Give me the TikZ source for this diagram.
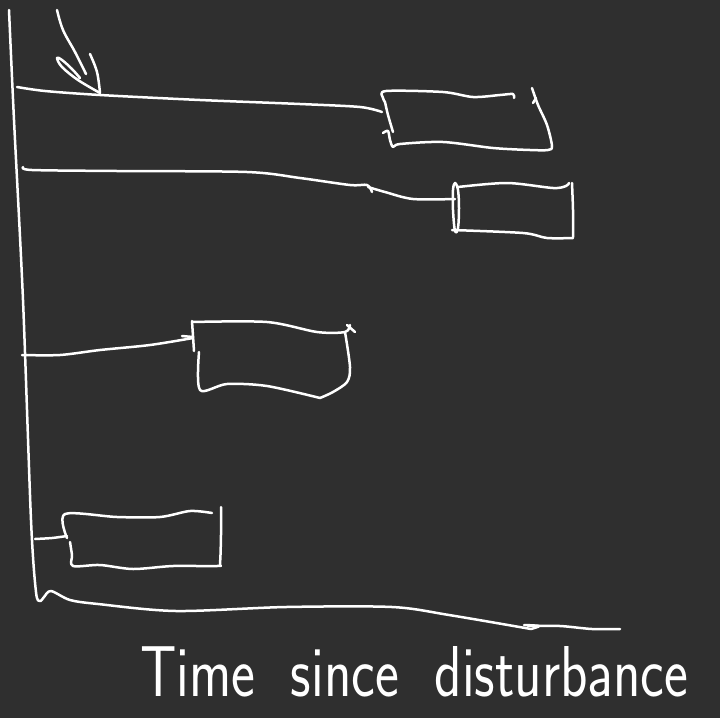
\documentclass[tikz,border=0pt]{standalone}
\definecolor{bgc}{RGB}{47,47,47}
\begin{document}
\begin{tikzpicture}[x=1pt,y=-1pt,
  ink/.style={draw=white, line width=2.5pt, line cap=round, line join=round},
  label/.style={text=white, inner sep=0pt}]
\fill[bgc] (0,0) rectangle (720,718);
\useasboundingbox (0,0) rectangle (720,718);

% named anchor coordinates
\coordinate (axtop) at (8,10);
\coordinate (b1) at (382,112);
\coordinate (b2) at (455,200);
\coordinate (b3) at (193,338);
\coordinate (b4) at (67,537);

% vertical axis with hook into horizontal axis
\draw[ink] plot[smooth, tension=0.5] coordinates {(9,10) (14,120) (23,300) (31,520) (36,592) (40,601) (44,597) (51,591) (70,600) (98,604) (176,611) (286,607) (392,607) (449,615) (531,629)};
\draw[ink] plot[smooth, tension=0.5] coordinates {(524,625) (539,626) (531,629)};
\draw[ink] plot[smooth, tension=0.5] coordinates {(528,626) (560,626) (592,629) (620,629)};

% arrow at top
\draw[ink] plot[smooth, tension=0.6] coordinates {(57,10) (63,30) (75,52) (86,74)};
\draw[ink] plot[smooth, tension=0.6] coordinates {(90,54) (97,72) (100,93)};
\draw[ink] plot[smooth, tension=0.6] coordinates {(100,93) (78,80) (62,67) (57,58) (62,60) (72,69) (80,78)};

% line 1 and box 1
\draw[ink] plot[smooth, tension=0.5] coordinates {(17,87) (45,91) (100,95) (200,100) (300,104) (360,107) (382,112)};
\draw[ink] plot[smooth, tension=0.5] coordinates {(385,102) (383,98) (386,91) (443,92) (473,97) (500,95) (513,94) (514,98)};
\draw[ink] plot[smooth, tension=0.5] coordinates {(385,102) (388,115) (393,132)};
\draw[ink] plot[smooth, tension=0.5] coordinates {(383,133) (388,131) (390,140) (393,147) (400,144) (443,142) (493,148) (530,150) (548,150) (552,146) (547,125) (538,105) (532,88)};
\draw[ink] (533,103) -- (536,98);

% line 2 and box 2
\draw[ink] plot[smooth, tension=0.5] coordinates {(23,167) (32,170) (117,171) (247,172) (300,178) (350,185) (367,185) (372,192)};
\draw[ink] plot[smooth, tension=0.5] coordinates {(368,187) (385,192) (413,199) (455,199)};
\draw[ink] plot[smooth cycle, tension=0.6] coordinates {(455,183) (458,190) (459,208) (458,228) (455,231) (453,210) (453,190)};
\draw[ink] plot[smooth, tension=0.5] coordinates {(458,187) (507,183) (553,188) (566,186) (569,183)};
\draw[ink] plot[smooth, tension=0.5] coordinates {(572,183) (573,210) (573,237)};
\draw[ink] plot[smooth, tension=0.5] coordinates {(452,230) (523,233) (547,238) (573,238)};

% line 3 and box 3
\draw[ink] plot[smooth, tension=0.5] coordinates {(22,355) (60,355) (100,350) (150,345) (193,338)};
\draw[ink] (182,336) -- (193,337);
\draw[ink] (192,321) -- (194,351);
\draw[ink] plot[smooth, tension=0.5] coordinates {(192,322) (267,322) (317,332) (345,332) (350,325)};
\draw[ink] (347,325) -- (355,332);
\draw[ink] plot[smooth, tension=0.5] coordinates {(345,332) (350,367) (347,382) (333,392) (320,398)};
\draw[ink] plot[smooth, tension=0.5] coordinates {(320,398) (267,386) (227,384) (200,390) (199,352)};

% line 4 and box 4
\draw[ink] plot[smooth, tension=0.5] coordinates {(35,539) (52,538) (67,536)};
\draw[ink] plot[smooth, tension=0.5] coordinates {(67,538) (65,514) (117,517) (160,517) (190,511) (212,513)};
\draw[ink] plot[smooth, tension=0.5] coordinates {(70,542) (72,555) (73,566) (100,565) (133,569) (173,566) (217,566) (220,563) (221,535) (221,507)};

% axis label
\node[label, anchor=south west] (xlabel) at (140,697) {\resizebox{548pt}{50pt}{\sffamily\Huge Time\ \ since\ \ disturbance}};
\end{tikzpicture}
\end{document}
